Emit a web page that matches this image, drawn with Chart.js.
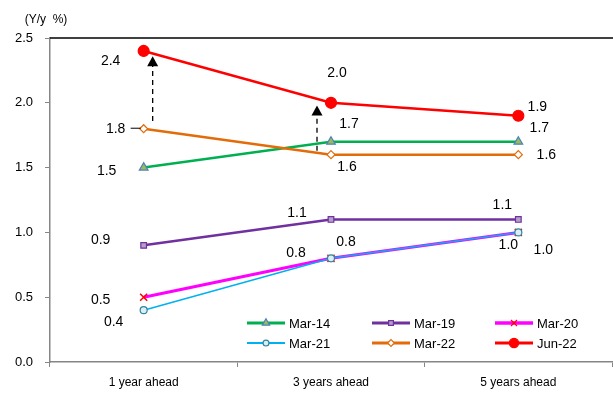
<!DOCTYPE html>
<html>
<head>
<meta charset="utf-8">
<script src="https://cdn.jsdelivr.net/npm/chart.js@4.4.0/dist/chart.umd.min.js"></script>
<style>
html, body { margin: 0; padding: 0; background: #fff; }
#wrap { width: 613px; height: 394px; position: relative; }
</style>
</head>
<body>
<div id="wrap"><canvas id="myChart"></canvas></div>
<script>
// datos del grafico
var categorias = ['1 year ahead', '3 years ahead', '5 years ahead'];
var nombres = ['Mar-14', 'Mar-19', 'Mar-20', 'Mar-21', 'Mar-22', 'Jun-22'];
var mar14 = [1.5, 1.7, 1.7];
var mar19 = [0.9, 1.1, 1.1];
var mar20 = [0.5, 0.8, 1.0];
var mar21 = [0.4, 0.8, 1.0];
var mar22 = [1.8, 1.6, 1.6];
var jun22 = [2.4, 2.0, 1.9];
var yMin = 0, yMax = 2.5, yPaso = 0.5;
// flechas punteadas: categoria, desde, hasta
var flechas = [[0, 1.86, 2.36], [1, 1.63, 1.98]];

// estilos (no son datos)
var fuente = "'Liberation Sans', Arial, sans-serif";
var estilos = [
    { color: '#00B050', ancho: 2.5, punto: 'triangle', radio: 5, relleno: '#9BBB59', borde: '#4F81BD', orden: 2,
      offs: [[-37, 4], [18, -18], [21, -14]] },
    { color: '#7030A0', ancho: 2.5, punto: 'rect', radio: 4, relleno: '#B3A2C7', borde: '#7030A0', orden: 5,
      offs: [[-43, -5], [-34, -6], [-16, -14]] },
    { color: '#FF00FF', ancho: 3, punto: 'crossRot', radio: 5, relleno: '#FF0000', borde: '#FF0000', orden: 4,
      offs: [[-43, 3], [15, -16], [25, 18]] },
    { color: '#00B0F0', ancho: 1.5, punto: 'circle', radio: 3.5, relleno: '#DAEEF3', borde: '#31859C', orden: 3,
      offs: [[-30, 12], [-35, -5], [-10, 13]] },
    { color: '#E36C09', ancho: 2.5, punto: 'rectRot', radio: 4, relleno: '#FFFFFF', borde: '#E36C09', orden: 1,
      offs: [[-28, 0], [16, 13], [28, 1]] },
    { color: '#FF0000', ancho: 2.5, punto: 'circle', radio: 5.5, relleno: '#FF0000', borde: '#FF0000', orden: 0,
      offs: [[-33, 10], [6, -30], [19, -9]] }
];
var valores = [mar14, mar19, mar20, mar21, mar22, jun22];

var datasets = [];
for (var i = 0; i < nombres.length; i++) {
    var e = estilos[i];
    datasets.push({
        label: nombres[i],
        data: valores[i],
        borderColor: e.color,
        backgroundColor: e.color,
        borderWidth: e.ancho,
        pointStyle: e.punto,
        pointRadius: e.radio,
        pointBackgroundColor: e.relleno,
        pointBorderColor: e.borde,
        pointBorderWidth: e.punto == 'crossRot' ? 1.5 : 1.2,
        order: e.orden,
        tension: 0
    });
}

// etiquetas, flechas, linea superior, leyenda
var extras = {
    id: 'extras',
    afterDatasetsDraw: function (chart) {
        var ctx = chart.ctx;
        var xs = chart.scales.x, ys = chart.scales.y, area = chart.chartArea;
        ctx.save();

        // linea superior negra
        ctx.strokeStyle = '#000';
        ctx.lineWidth = 1.5;
        ctx.beginPath();
        ctx.moveTo(area.left, area.top);
        ctx.lineTo(613, area.top);
        ctx.stroke();

        // flechas punteadas
        var dx = [9, -14];
        for (var f = 0; f < flechas.length; f++) {
            var x = xs.getPixelForValue(flechas[f][0]) + dx[f];
            var y0 = ys.getPixelForValue(flechas[f][1]);
            var y1 = ys.getPixelForValue(flechas[f][2]);
            ctx.strokeStyle = '#000';
            ctx.lineWidth = 1.3;
            ctx.setLineDash([5, 4]);
            ctx.beginPath();
            ctx.moveTo(x, y0);
            ctx.lineTo(x, y1 + 9);
            ctx.stroke();
            ctx.setLineDash([]);
            ctx.fillStyle = '#000';
            ctx.beginPath();
            ctx.moveTo(x, y1);
            ctx.lineTo(x - 5.5, y1 + 10);
            ctx.lineTo(x + 5.5, y1 + 10);
            ctx.closePath();
            ctx.fill();
        }

        // etiquetas de datos
        ctx.font = '14px ' + fuente;
        ctx.fillStyle = '#000';
        ctx.textAlign = 'center';
        ctx.textBaseline = 'middle';
        for (var d = 0; d < valores.length; d++) {
            var meta = chart.getDatasetMeta(d);
            for (var j = 0; j < valores[d].length; j++) {
                var p = meta.data[j];
                var o = estilos[d].offs[j];
                ctx.fillText(valores[d][j].toFixed(1), p.x + o[0], p.y + o[1]);
            }
        }
        // linea guia de 1.8
        var p18 = chart.getDatasetMeta(4).data[0];
        ctx.strokeStyle = '#000';
        ctx.lineWidth = 1;
        ctx.beginPath();
        ctx.moveTo(p18.x - 13, p18.y - 0.5);
        ctx.lineTo(p18.x - 3, p18.y - 0.5);
        ctx.stroke();

        // titulo eje y
        ctx.font = '12px ' + fuente;
        ctx.fillText('(Y/y  %)', 46, 20);

        // leyenda dentro del area
        var colX = [247, 372, 495];
        var filaY = [323, 343];
        ctx.font = '13px ' + fuente;
        ctx.textAlign = 'left';
        for (var k = 0; k < nombres.length; k++) {
            var cx = colX[k % 3], cy = filaY[Math.floor(k / 3)];
            var es = estilos[k];
            ctx.strokeStyle = es.color;
            ctx.lineWidth = es.ancho + 0.5;
            ctx.beginPath();
            ctx.moveTo(cx, cy);
            ctx.lineTo(cx + 38, cy);
            ctx.stroke();
            ctx.fillStyle = es.relleno;
            ctx.strokeStyle = es.borde;
            ctx.lineWidth = 1.2;
            Chart.helpers.drawPoint(ctx, { pointStyle: es.punto, radius: es.radio * 0.85, rotation: 0, borderWidth: 1.2 }, cx + 19, cy);
            ctx.fillStyle = '#000';
            ctx.fillText(nombres[k], cx + 42, cy + 1);
        }
        ctx.restore();
    }
};

var graphTarget = document.getElementById('myChart');
var grafica = new Chart(graphTarget, {
    type: 'line',
    data: { labels: categorias, datasets: datasets },
    plugins: [extras],
    options: {
        responsive: true,
        maintainAspectRatio: false,
        animation: false,
        layout: { autoPadding: false, padding: { top: 38, right: 1, left: 0, bottom: 0 } },
        plugins: {
            legend: { display: false },
            tooltip: { enabled: false }
        },
        scales: {
            x: {
                offset: true,
                grid: { display: true, drawOnChartArea: false, offset: true, tickLength: 5, color: '#868686', tickColor: '#868686' },
                border: { display: true, color: '#868686', width: 1.5 },
                ticks: { color: '#000', font: { size: 12, family: fuente }, padding: 8 },
                afterFit: function (scale) {
                    scale.height = 32;
                    scale.paddingLeft = 0;
                    scale.paddingRight = 0;
                }
            },
            y: {
                min: yMin,
                max: yMax,
                grid: { display: true, drawOnChartArea: false, tickLength: 5, color: '#868686', tickColor: '#868686' },
                border: { display: true, color: '#868686', width: 1.5 },
                ticks: {
                    stepSize: yPaso,
                    color: '#000',
                    font: { size: 13, family: fuente },
                    padding: 12,
                    callback: function (v) { return Number(v).toFixed(1); }
                },
                afterFit: function (scale) { scale.width = 50; }
            }
        }
    }
});
</script>
</body>
</html>
